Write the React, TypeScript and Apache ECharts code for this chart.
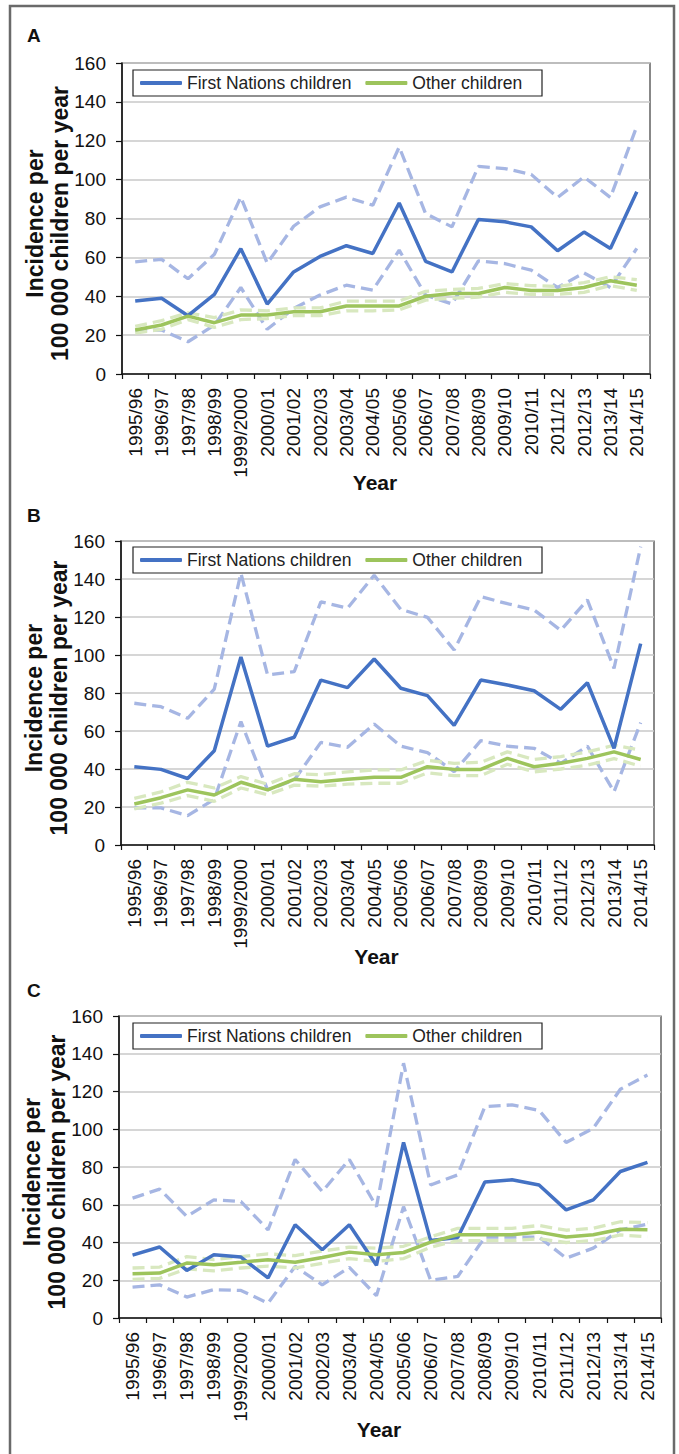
import React, { useEffect, useRef } from 'react';
import * as echarts from 'echarts';

const years = ['1995/96', '1996/97', '1997/98', '1998/99', '1999/2000', '2000/01', '2001/02', '2002/03', '2003/04', '2004/05', '2005/06', '2006/07', '2007/08', '2008/09', '2009/10', '2010/11', '2011/12', '2012/13', '2013/14', '2014/15'];
const yTicks = [0, 20, 40, 60, 80, 100, 120, 140, 160];

// Panel A
const fnA = [37.5, 39, 30, 41, 64.5, 36, 52.5, 60.5, 66, 62, 88, 58, 52.5, 79.5, 78.3, 75.7, 63.4, 73, 64.6, 93.8];
const fnAUp = [57.7, 59, 49, 61.6, 91, 57, 76, 86, 91, 86.8, 116.8, 82.5, 75.7, 106.8, 105.7, 102.7, 90.8, 101.4, 90.8, 127.4];
const fnALo = [22.6, 22.6, 16.6, 25.2, 44.5, 23, 33.7, 40.6, 45.7, 43.2, 63.7, 40.6, 36, 58.2, 56.8, 53.4, 44.5, 52, 44.5, 64.6];
const otA = [22.6, 25.2, 29.8, 26.4, 30.3, 30.3, 32, 32, 35, 35, 35, 40, 41.4, 41.4, 44.5, 43, 43, 44.5, 48, 45.7];
const otAUp = [24.5, 27.5, 31.5, 29, 33, 32.5, 34, 34, 37.5, 37.5, 37.5, 42.5, 43.5, 44, 46.5, 45.5, 45, 47, 50, 48.5];
const otALo = [21, 23, 28, 24, 28, 28.5, 30, 30, 32.5, 32.5, 33, 38, 39, 39.5, 42, 41, 41, 42, 45.5, 43];

// Panel B
const fnB = [41.2, 39.8, 35, 49.6, 99, 52, 56.7, 86.8, 82.8, 97.9, 82.5, 78.6, 63, 86.8, 84.2, 81.2, 71.4, 85.4, 50.9, 106];
const fnBUp = [74.6, 72.8, 66.7, 82, 143, 89.5, 91.2, 128, 124.6, 142, 124, 119.8, 102.6, 130.7, 127, 123.7, 113, 129, 93, 157];
const fnBLo = [19.5, 19.5, 15.5, 24, 65, 29, 34.2, 54, 51.4, 63.7, 52, 48.6, 38.6, 54.9, 52, 50.9, 43, 52, 28, 64.4];
const otB = [21.6, 24.9, 29, 26.3, 33, 29, 34.6, 33.3, 34.6, 35.6, 35.6, 41.2, 39.8, 39.8, 45.6, 41.2, 43, 45.6, 49, 45];
const otBUp = [24.5, 28, 33, 30, 36, 32, 37.5, 37, 38.5, 39.5, 39.5, 44.5, 43, 43.5, 49, 45, 46.5, 49, 52.5, 50];
const otBLo = [19, 22, 26, 23, 30, 26.5, 31.5, 31, 32, 32.5, 32.5, 38, 36.5, 36.5, 42.5, 38.5, 40, 42, 45.5, 41.5];

// Panel C
const fnC = [33.3, 37.6, 25.2, 33.5, 32.3, 21.2, 49.4, 36.2, 49.4, 27.9, 93, 41, 42.7, 72, 73.2, 70.5, 57.3, 62.6, 77.6, 82.5];
const fnCUp = [63.5, 68.3, 53.8, 62.6, 61.7, 46.7, 84, 67, 84, 59, 135, 70.5, 75.8, 112, 112.9, 110, 93, 100.5, 121.2, 128.7];
const fnCLo = [16.4, 17.6, 11.1, 15, 14.6, 7.9, 27.3, 17.6, 26.8, 11.8, 59, 20, 22, 42.9, 42.9, 42.9, 31.7, 37, 46.7, 49.7];
const otC = [23.5, 23.8, 29.1, 28.2, 29.5, 30.9, 29.5, 32.1, 34.9, 33.5, 34.7, 40.2, 44.1, 44.1, 44.1, 45.5, 42.9, 44.1, 47, 46.7];
const otCUp = [26.5, 27, 32.5, 31, 32.5, 34, 33, 35.5, 37.5, 37, 38, 43, 47.5, 47.5, 47.5, 49, 46.5, 47.5, 51, 50.5];
const otCLo = [20.5, 21, 26, 25, 26.5, 27.5, 26.5, 29, 31.5, 30, 31.5, 37.5, 41, 41, 41, 42, 40, 41, 44, 43];

const FN = 'First Nations children';
const OT = 'Other children';

const panels = [
  { label: 'A', fn: fnA, fnUp: fnAUp, fnLo: fnALo, ot: otA, otUp: otAUp, otLo: otALo },
  { label: 'B', fn: fnB, fnUp: fnBUp, fnLo: fnBLo, ot: otB, otUp: otBUp, otLo: otBLo },
  { label: 'C', fn: fnC, fnUp: fnCUp, fnLo: fnCLo, ot: otC, otUp: otCUp, otLo: otCLo },
];

const layouts = [
  { left: 122, top: 63, width: 528, height: 311, legendY: 70, letterY: 35, yearGap: 98 },
  { left: 121, top: 541, width: 533, height: 304, legendY: 547, letterY: 515, yearGap: 101 },
  { left: 119, top: 1016, width: 542, height: 302, legendY: 1023, letterY: 990, yearGap: 101 },
];

const FONT = '"Liberation Sans", Arial, Helvetica, sans-serif';
const BLUE = '#4472c4';
const BLUE_CI = '#a6b6e3';
const GREEN = '#9dc45c';
const GREEN_CI = '#d8e8bf';

export default function App() {
  const ref = useRef<HTMLDivElement>(null);

  useEffect(() => {
    if (!ref.current) return;
    const chart = echarts.init(ref.current, null, { renderer: 'svg' });

    const grids: any[] = [];
    const xAxes: any[] = [];
    const yAxes: any[] = [];
    const series: any[] = [];
    const legends: any[] = [];
    const graphics: any[] = [
      {
        type: 'rect',
        shape: { x: 10, y: 6, width: 664, height: 1470 },
        style: { fill: 'none', stroke: '#6a6a6a', lineWidth: 2.5 },
        silent: true,
      },
    ];

    panels.forEach((p, i) => {
      const L = layouts[i];
      grids.push({
        left: L.left,
        top: L.top,
        width: L.width,
        height: L.height,
        show: true,
        borderColor: '#3a3a3a',
        borderWidth: 1.2,
        containLabel: false,
      });
      xAxes.push({
        type: 'category',
        gridIndex: i,
        data: years,
        boundaryGap: true,
        name: 'Year',
        nameLocation: 'middle',
        nameGap: L.yearGap,
        nameMoveOverlap: false,
        nameTextStyle: {
          fontFamily: FONT,
          fontWeight: 'bold',
          fontSize: 21,
          color: '#111',
          padding: [0, 22, 0, 0],
        },
        axisLine: { show: true, lineStyle: { color: '#111', width: 1.5 } },
        axisTick: { show: true, interval: 0, length: 5, lineStyle: { color: '#111', width: 1.2 } },
        axisLabel: {
          interval: 0,
          rotate: 90,
          margin: 14,
          fontFamily: FONT,
          fontSize: 19,
          color: '#111',
        },
        splitLine: { show: false },
      });
      yAxes.push({
        type: 'value',
        gridIndex: i,
        min: yTicks[0],
        max: yTicks[yTicks.length - 1],
        interval: yTicks[1] - yTicks[0],
        name: 'Incidence per\n100 000 children per year',
        nameLocation: 'middle',
        nameRotate: 90,
        nameGap: 50,
        nameMoveOverlap: false,
        nameTextStyle: {
          fontFamily: FONT,
          fontWeight: 'bold',
          fontSize: 23,
          lineHeight: 25,
          color: '#111',
          padding: [0, 10, 0, 0],
        },
        axisLine: { show: true, lineStyle: { color: '#111', width: 1.5 } },
        axisTick: { show: true, length: 6, lineStyle: { color: '#111', width: 1.2 } },
        axisLabel: { margin: 16, fontFamily: FONT, fontSize: 19, color: '#111' },
        splitLine: { show: true, lineStyle: { color: '#c8c8c8', width: 1.6 } },
      });

      const dashed = (name: string, data: number[], color: string) => ({
        type: 'line',
        name,
        xAxisIndex: i,
        yAxisIndex: i,
        data,
        symbol: 'none',
        silent: true,
        z: 2,
        lineStyle: { color, width: 3.3, type: [12, 6] },
      });
      series.push(dashed('FN upper ' + p.label, p.fnUp, BLUE_CI));
      series.push(dashed('FN lower ' + p.label, p.fnLo, BLUE_CI));
      series.push(dashed('Other upper ' + p.label, p.otUp, GREEN_CI));
      series.push(dashed('Other lower ' + p.label, p.otLo, GREEN_CI));
      series.push({
        type: 'line',
        name: FN,
        xAxisIndex: i,
        yAxisIndex: i,
        data: p.fn,
        symbol: 'none',
        silent: true,
        z: 3,
        lineStyle: { color: BLUE, width: 3.5 },
        itemStyle: { color: BLUE },
      });
      series.push({
        type: 'line',
        name: OT,
        xAxisIndex: i,
        yAxisIndex: i,
        data: p.ot,
        symbol: 'none',
        silent: true,
        z: 4,
        lineStyle: { color: GREEN, width: 3.5 },
        itemStyle: { color: GREEN },
      });

      legends.push({
        data: [FN, OT],
        left: 140,
        top: L.legendY + 3,
        padding: 0,
        icon: 'roundRect',
        itemWidth: 42,
        itemHeight: 4,
        itemGap: 14,
        selectedMode: false,
        textStyle: { fontFamily: FONT, fontSize: 17.5, color: '#222', lineHeight: 20 },
      });
      graphics.push({
        type: 'rect',
        shape: { x: 133, y: L.legendY, width: 409, height: 26 },
        style: { fill: 'none', stroke: '#222', lineWidth: 1.2 },
        silent: true,
        z: 10,
      });
      graphics.push({
        type: 'text',
        x: 27,
        y: L.letterY,
        style: {
          text: p.label,
          font: 'bold 19px ' + FONT,
          fill: '#111',
          textVerticalAlign: 'middle',
        },
        silent: true,
      });
    });

    chart.setOption({
      animation: false,
      backgroundColor: '#ffffff',
      grid: grids,
      xAxis: xAxes,
      yAxis: yAxes,
      legend: legends,
      series,
      graphic: graphics,
    });

    return () => chart.dispose();
  }, []);

  return (
    <div
      ref={ref}
      style={{ position: 'absolute', left: 0, top: 0, width: 679, height: 1454, background: '#fff' }}
    />
  );
}
